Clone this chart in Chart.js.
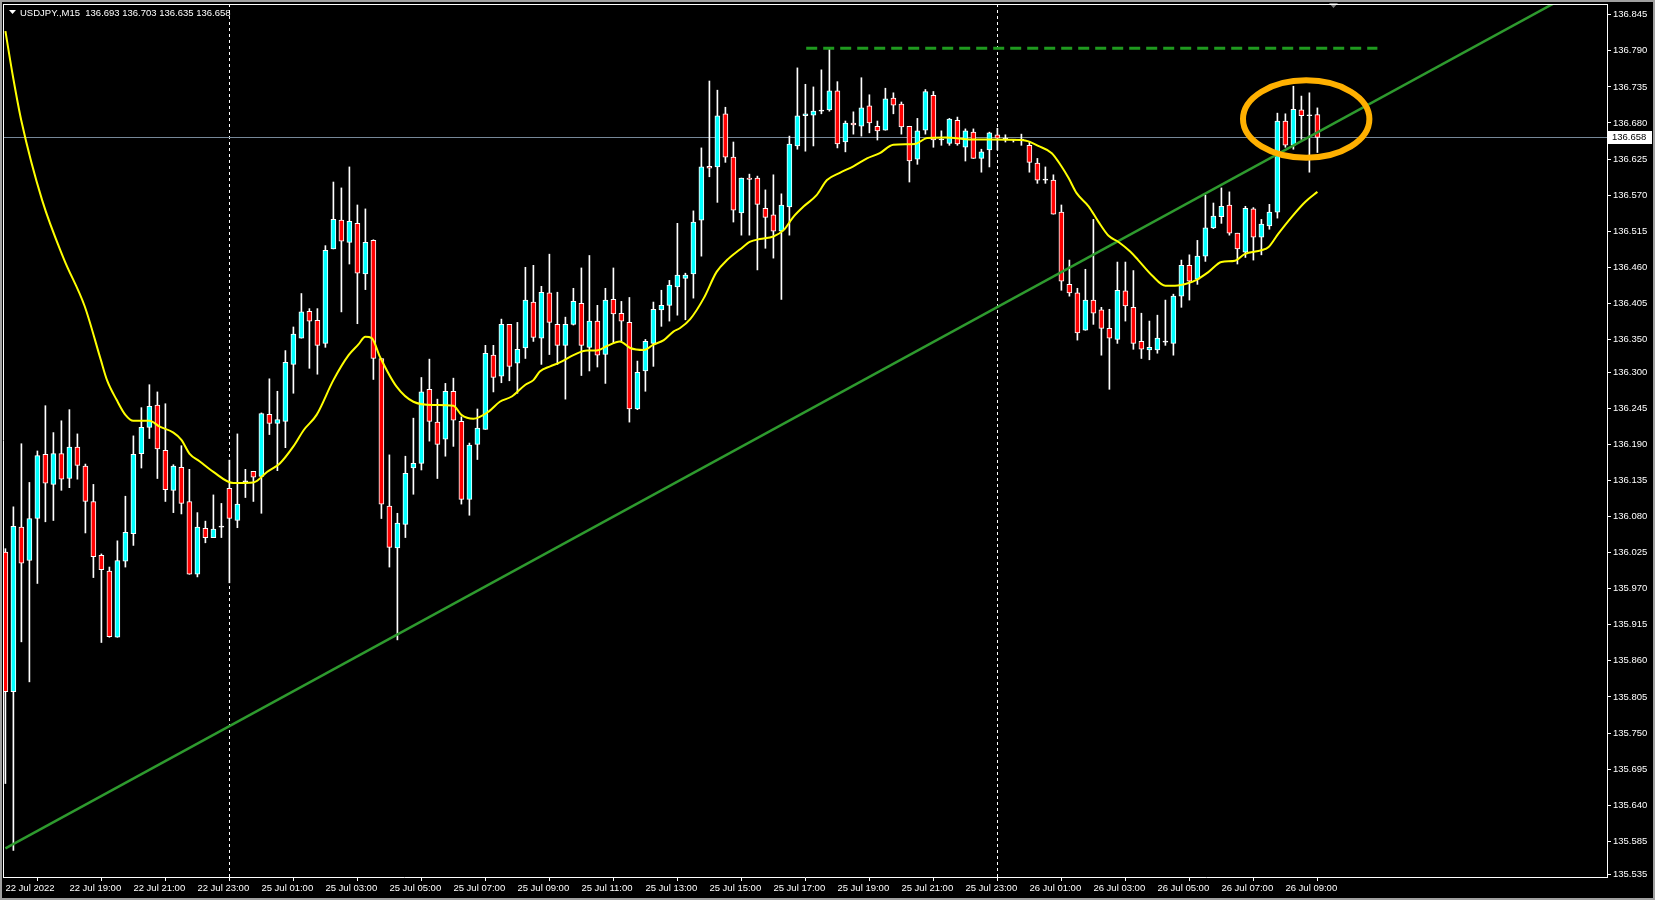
<!DOCTYPE html>
<html>
<head>
<meta charset="utf-8">
<style>
  html, body { margin: 0; padding: 0; background: #000; }
  #wrap { width: 1655px; height: 900px; position: relative; }
</style>
<script src="https://cdn.jsdelivr.net/npm/chart.js@4.4.0/dist/chart.umd.min.js"></script>
</head>
<body>
<div id="wrap"><canvas id="chart" width="1655" height="900"></canvas></div>
<script>
// USDJPY M15, 22 Jul 17:00 .. 26 Jul 10:00 (one entry per bar)
const symbol = 'USDJPY.,M15';

const openP = [136.026,135.813,136.064,136.013,136.077,136.175,136.129,136.176,136.138,136.186,
  136.157,136.103,136.021,135.997,135.896,136.012,136.054,136.176,136.216,136.250,
  136.181,136.120,136.155,136.103,135.992,136.062,136.048,136.064,136.123,136.074,
  136.133,136.149,136.141,136.236,136.222,136.225,136.312,136.352,136.393,136.379,
  136.344,136.488,136.532,136.498,136.527,136.450,136.501,136.321,136.096,136.032,
  136.068,136.154,136.161,136.274,136.224,136.198,136.271,136.225,136.106,136.190,
  136.213,136.326,136.294,136.373,136.314,136.337,136.407,136.352,136.421,136.373,
  136.341,136.373,136.405,136.338,136.378,136.327,136.411,136.390,136.376,136.244,
  136.302,136.344,136.395,136.402,136.430,136.443,136.450,136.532,136.614,136.613,
  136.694,136.628,136.543,136.596,136.596,136.550,136.540,136.515,136.552,136.645,
  136.691,136.692,136.698,136.700,136.729,136.651,136.680,136.675,136.706,136.675,
  136.669,136.718,136.709,136.675,136.625,136.669,136.722,136.654,136.649,136.684,
  136.643,136.666,136.626,136.639,136.662,136.655,136.654,136.654,136.646,136.619,
  136.593,136.593,136.544,136.434,136.421,136.364,136.410,136.395,136.367,136.350,
  136.424,136.399,136.347,136.334,136.334,136.346,136.344,136.416,136.463,136.442,
  136.477,136.520,136.537,136.555,136.512,136.483,136.549,136.506,136.523,136.544,
  136.683,136.646,136.700,136.691,136.693];

const highP = [136.031,136.095,136.191,136.132,136.180,136.249,136.208,136.226,136.243,136.206,
  136.160,136.129,136.023,136.003,136.043,136.111,136.203,136.246,136.281,136.270,
  136.252,136.159,136.188,136.152,136.086,136.073,136.113,136.100,136.166,136.206,
  136.152,136.149,136.238,136.290,136.271,136.333,136.369,136.420,136.397,136.397,
  136.493,136.590,136.581,136.613,136.555,136.549,136.502,136.321,136.174,136.085,
  136.172,136.230,136.292,136.320,136.259,136.283,136.291,136.232,136.192,136.244,
  136.341,136.341,136.381,136.373,136.376,136.460,136.463,136.431,136.480,136.422,
  136.384,136.428,136.459,136.478,136.402,136.428,136.459,136.408,136.414,136.317,
  136.350,136.407,136.425,136.440,136.527,136.451,136.546,136.642,136.744,136.730,
  136.704,136.651,136.596,136.602,136.599,136.578,136.601,136.572,136.660,136.764,
  136.739,136.735,136.761,136.795,136.743,136.683,136.697,136.749,136.723,136.683,
  136.733,136.726,136.712,136.675,136.687,136.731,136.728,136.668,136.687,136.689,
  136.671,136.671,136.640,136.666,136.672,136.662,136.655,136.663,136.652,136.626,
  136.613,136.601,136.555,136.471,136.428,136.457,136.533,136.399,136.396,136.468,
  136.468,136.455,136.390,136.378,136.387,136.410,136.419,136.471,136.479,136.501,
  136.570,136.558,136.581,136.575,136.512,136.553,136.551,136.533,136.556,136.695,
  136.694,136.736,136.721,136.726,136.703];

const lowP = [135.673,135.571,135.889,135.828,135.978,136.072,136.074,136.120,136.124,136.137,
  136.055,135.987,135.888,135.896,135.896,136.003,136.036,136.154,136.199,136.138,
  136.103,136.086,136.084,135.992,135.988,136.040,136.048,136.048,135.979,136.063,
  136.109,136.103,136.085,136.205,136.150,136.185,136.268,136.352,136.306,136.297,
  136.338,136.488,136.392,136.465,136.374,136.426,136.289,136.077,136.003,135.892,
  136.048,136.114,136.151,136.195,136.138,136.172,136.187,136.099,136.082,136.167,
  136.213,136.270,136.284,136.287,136.268,136.321,136.347,136.312,136.327,136.312,
  136.259,136.372,136.295,136.302,136.308,136.283,136.344,136.347,136.224,136.243,
  136.271,136.309,136.370,136.378,136.387,136.380,136.413,136.477,136.598,136.559,
  136.620,136.529,136.509,136.509,136.456,136.489,136.474,136.411,136.509,136.640,
  136.637,136.645,136.694,136.698,136.642,136.636,136.663,136.660,136.665,136.654,
  136.669,136.694,136.663,136.590,136.617,136.663,136.643,136.646,136.646,136.646,
  136.622,136.626,136.605,136.613,136.639,136.651,136.651,136.646,136.605,136.588,
  136.588,136.541,136.425,136.416,136.349,136.364,136.373,136.326,136.274,136.344,
  136.378,136.335,136.321,136.319,136.329,136.341,136.326,136.399,136.410,136.434,
  136.469,136.519,136.527,136.509,136.465,136.475,136.471,136.479,136.518,136.535,
  136.643,136.640,136.655,136.605,136.635];

const closeP = [135.813,136.065,136.009,136.077,136.173,136.131,136.176,136.137,136.186,136.158,
  136.103,136.019,135.999,135.897,136.013,136.056,136.175,136.216,136.248,136.183,
  136.121,136.157,136.100,135.992,136.064,136.048,136.061,136.064,136.077,136.099,
  136.133,136.140,136.237,136.222,136.228,136.315,136.358,136.392,136.378,136.341,
  136.486,136.533,136.500,136.530,136.451,136.498,136.321,136.099,136.033,136.070,
  136.146,136.161,136.270,136.225,136.190,136.271,136.227,136.106,136.189,136.215,
  136.329,136.292,136.373,136.309,136.335,136.410,136.353,136.422,136.376,136.341,
  136.373,136.408,136.341,136.378,136.326,136.410,136.389,136.378,136.244,136.300,
  136.347,136.396,136.402,136.433,136.448,136.448,136.529,136.613,136.611,136.691,
  136.628,136.547,136.596,136.594,136.556,136.536,136.515,136.555,136.648,136.691,
  136.694,136.698,136.698,136.729,136.648,136.680,136.677,136.703,136.680,136.668,
  136.717,136.707,136.674,136.622,136.668,136.728,136.654,136.654,136.686,136.648,
  136.668,136.626,136.636,136.665,136.657,136.655,136.654,136.654,136.620,136.593,
  136.593,136.541,136.439,136.421,136.360,136.410,136.390,136.367,136.352,136.425,
  136.401,136.344,136.335,136.338,136.352,136.346,136.416,136.463,136.439,136.477,
  136.520,136.538,136.553,136.512,136.488,136.550,136.506,136.526,136.544,136.683,
  136.646,136.701,136.691,136.691,136.658];

// moving average (bar position, price)
const maIdx = [0,1,2,4.6,7.3,9.9,11.9,12.7,13.9,15,16,18,19.3,21,22,23,24.3,26,28.5,31,
  32.7,34.3,36,37.3,38.9,41,42.9,44.1,45,45.8,46.8,48.9,51,53.5,56,57,58.5,60.4,61.8,63.3,
  65,66,66.8,68.1,69.3,71,72.7,73.9,75.2,76.8,78.1,79.8,81,82.3,83.5,84.3,85.6,87.3,88.9,90.2,
  91.8,93.1,94.3,96,97.3,98.5,99.8,101.4,102.7,104.3,106,107.7,109.3,111,113.7,115.2,117.5,120.8,127,127.9,
  129.1,130.8,132,132.9,133.9,135.4,136.6,137.9,139.1,140.6,141.6,143.3,145,146.2,147.9,148.9,150.4,152,153.7,154.9,
  157,157.9,159.1,160.8,162.5,164];
const maVal = [136.820,136.747,136.683,136.562,136.473,136.401,136.320,136.288,136.258,136.235,136.226,136.226,136.217,136.208,136.197,136.176,136.164,136.148,136.131,136.132,
  136.148,136.161,136.187,136.212,136.235,136.288,136.326,136.342,136.354,136.352,136.324,136.278,136.255,136.250,136.249,136.235,136.229,136.240,136.255,136.263,
  136.281,136.288,136.301,136.309,136.315,136.326,136.333,136.333,136.340,136.347,136.337,136.334,136.342,136.349,136.362,136.367,136.381,136.413,136.453,136.471,
  136.487,136.499,136.503,136.507,136.517,136.537,136.553,136.570,136.593,136.604,136.614,136.626,136.634,136.647,136.648,136.657,136.658,136.655,136.654,136.652,
  136.645,136.634,136.614,136.596,136.573,136.553,136.530,136.508,136.499,136.484,136.471,136.448,136.432,136.432,136.436,136.441,136.453,136.468,136.470,136.480,
  136.486,136.491,136.511,136.537,136.560,136.575];

// time axis: one label every 8 bars (2 hours)
const timeIdx = [0,8,16,24,32,40,48,56,64,72,80,88,96,104,112,120,128,136,144,152,160];
const timeLabels = ['22 Jul 2022','22 Jul 19:00','22 Jul 21:00','22 Jul 23:00','25 Jul 01:00','25 Jul 03:00',
  '25 Jul 05:00','25 Jul 07:00','25 Jul 09:00','25 Jul 11:00','25 Jul 13:00','25 Jul 15:00','25 Jul 17:00',
  '25 Jul 19:00','25 Jul 21:00','25 Jul 23:00','26 Jul 01:00','26 Jul 03:00','26 Jul 05:00','26 Jul 07:00','26 Jul 09:00'];

const priceTicks = [136.845,136.790,136.735,136.680,136.625,136.570,136.515,136.460,136.405,136.350,136.300,
  136.245,136.190,136.135,136.080,136.025,135.970,135.915,135.860,135.805,135.750,135.695,135.640,135.585,135.535];

// day separators (bar index of 00:00)
const daySeparators = [28, 124];

// drawn objects
const trendIdx = [0, 195];
const trendVal = [135.574, 136.872];
const levelIdx = [100.1, 171.5];
const levelVal = [136.794, 136.794];
const circleIdx = 162.6, circleHalfBars = 7.9;
const circlePrice = 136.686, circleHalfPrice = 0.059;

const FONT = "'Liberation Sans', Arial, sans-serif";
const FSIZE = 9.5;

const bars = openP.map((o, i) => i);
const bodyData = bars.map(i => ({x: i, y: [openP[i], closeP[i]]}));
const wickData = bars.map(i => ({x: i, y: [lowP[i], highP[i]]}));
const bodyColors = bars.map(i => closeP[i] > openP[i] ? '#00ffff' : (closeP[i] < openP[i] ? '#ff0000' : '#ffffff'));
const lastClose = closeP[closeP.length - 1];

const decor = {
  id: 'decor',
  beforeDraw(chart) {
    const ctx = chart.ctx;
    ctx.save();
    ctx.fillStyle = '#000';
    ctx.fillRect(0, 0, chart.width, chart.height);
    ctx.restore();
  },
  beforeDatasetsDraw(chart) {
    const {ctx, chartArea: a, scales: {x, y}} = chart;
    ctx.save();
    // day separators
    ctx.strokeStyle = '#ffffff';
    ctx.lineWidth = 1;
    ctx.setLineDash([3, 3]);
    daySeparators.forEach(d => {
      const px = Math.round(x.getPixelForValue(d)) + 0.5;
      ctx.beginPath();
      ctx.moveTo(px, a.top);
      ctx.lineTo(px, a.bottom);
      ctx.stroke();
    });
    ctx.setLineDash([]);
    // bid line
    const py = Math.round(y.getPixelForValue(lastClose)) + 0.5;
    ctx.strokeStyle = '#778899';
    ctx.beginPath();
    ctx.moveTo(a.left, py);
    ctx.lineTo(a.right, py);
    ctx.stroke();
    ctx.restore();
  },
  afterDatasetsDraw(chart) {
    const {ctx, chartArea: a, scales: {x, y}} = chart;
    ctx.save();
    ctx.beginPath();
    ctx.rect(a.left, a.top, a.right - a.left, a.bottom - a.top);
    ctx.clip();
    const cx = x.getPixelForValue(circleIdx);
    const cy = y.getPixelForValue(circlePrice);
    const rx = Math.abs(x.getPixelForValue(circleIdx + circleHalfBars) - cx);
    const ry = Math.abs(y.getPixelForValue(circlePrice + circleHalfPrice) - cy);
    ctx.strokeStyle = '#ffb000';
    ctx.lineWidth = 6;
    ctx.beginPath();
    ctx.ellipse(cx, cy, rx, ry, 0, 0, Math.PI * 2);
    ctx.stroke();
    ctx.restore();

    ctx.save();
    // header
    ctx.fillStyle = '#ffffff';
    ctx.beginPath();
    ctx.moveTo(9, 10); ctx.lineTo(16, 10); ctx.lineTo(12.5, 14); ctx.closePath();
    ctx.fill();
    ctx.font = FSIZE + 'px ' + FONT;
    ctx.textBaseline = 'middle';
    const last = openP.length - 1;
    ctx.fillText(symbol + '  ' + [openP[last], highP[last], lowP[last], closeP[last]].map(v => v.toFixed(3)).join(' '), 20, 13);
    // bid label
    const py = Math.round(y.getPixelForValue(lastClose));
    ctx.fillStyle = '#ffffff';
    ctx.fillRect(a.right + 1, py - 6, 44, 13);
    ctx.fillStyle = '#000000';
    ctx.textAlign = 'left';
    ctx.fillText(lastClose.toFixed(3), a.right + 5, py + 0.5);
    // chart shift marker
    ctx.fillStyle = '#7f7f7f';
    ctx.beginPath();
    ctx.moveTo(1329, 3); ctx.lineTo(1338, 3); ctx.lineTo(1333.5, 8); ctx.closePath();
    ctx.fill();
    // window frame
    ctx.strokeStyle = '#a0a0a0';
    ctx.lineWidth = 2;
    ctx.strokeRect(1, 1, chart.width - 2, chart.height - 2);
    ctx.strokeStyle = '#ffffff';
    ctx.lineWidth = 1;
    ctx.beginPath();
    ctx.moveTo(a.left + 0.5, a.top);
    ctx.lineTo(a.left + 0.5, a.bottom);
    ctx.moveTo(a.left, a.top + 0.5);
    ctx.lineTo(a.right, a.top + 0.5);
    ctx.stroke();
    ctx.restore();
  }
};

new Chart(document.getElementById('chart').getContext('2d'), {
  type: 'bar',
  data: {
    datasets: [
      {
        type: 'line', label: 'MA', order: 0,
        data: maIdx.map((v, k) => ({x: v, y: maVal[k]})),
        borderColor: '#ffff00', borderWidth: 2, pointRadius: 0,
        cubicInterpolationMode: 'monotone', fill: false
      },
      {
        type: 'line', label: 'trend', order: 0,
        data: trendIdx.map((v, k) => ({x: v, y: trendVal[k]})),
        borderColor: '#2e9a2e', borderWidth: 2.5, pointRadius: 0, fill: false
      },
      {
        type: 'line', label: 'level', order: 0,
        data: levelIdx.map((v, k) => ({x: v, y: levelVal[k]})),
        borderColor: '#1f9a1f', borderWidth: 3, borderDash: [11, 6], pointRadius: 0, fill: false
      },
      {
        label: 'body', order: 1, data: bodyData,
        backgroundColor: bodyColors, borderColor: '#ffffff', borderWidth: 1,
        borderSkipped: false, barThickness: 5, grouped: false, minBarLength: 1
      },
      {
        label: 'wick', order: 2, data: wickData,
        backgroundColor: '#ffffff', borderWidth: 0, barThickness: 1, grouped: false, minBarLength: 1
      }
    ]
  },
  options: {
    responsive: false,
    animation: false,
    devicePixelRatio: 1,
    layout: { padding: { left: 3, top: 4, right: 0, bottom: 0 } },
    plugins: { legend: { display: false }, tooltip: { enabled: false } },
    scales: {
      x: {
        type: 'linear', min: -0.3, max: 200.2, offset: false,
        afterBuildTicks: s => { s.ticks = timeIdx.map(v => ({value: v})); },
        afterFit: s => { s.height = 23; s.paddingLeft = 0; s.paddingRight = 0; },
        ticks: {
          autoSkip: false, maxRotation: 0, align: 'start', padding: 2,
          color: '#ffffff', font: { family: FONT, size: FSIZE },
          callback: v => timeLabels[timeIdx.indexOf(v)]
        },
        grid: { drawOnChartArea: false, color: '#ffffff', tickLength: 4 },
        border: { color: '#ffffff', width: 1 }
      },
      y: {
        type: 'linear', position: 'right', min: 135.5305, max: 136.8614,
        afterBuildTicks: s => { s.ticks = priceTicks.map(v => ({value: v})); },
        afterFit: s => { s.width = 48; s.paddingTop = 0; s.paddingBottom = 0; },
        ticks: {
          autoSkip: false, padding: 2, color: '#ffffff', font: { family: FONT, size: FSIZE },
          callback: v => v.toFixed(3)
        },
        grid: { drawOnChartArea: false, color: '#ffffff', tickLength: 4 },
        border: { color: '#ffffff', width: 1 }
      }
    }
  },
  plugins: [decor]
});
</script>
</body>
</html>
